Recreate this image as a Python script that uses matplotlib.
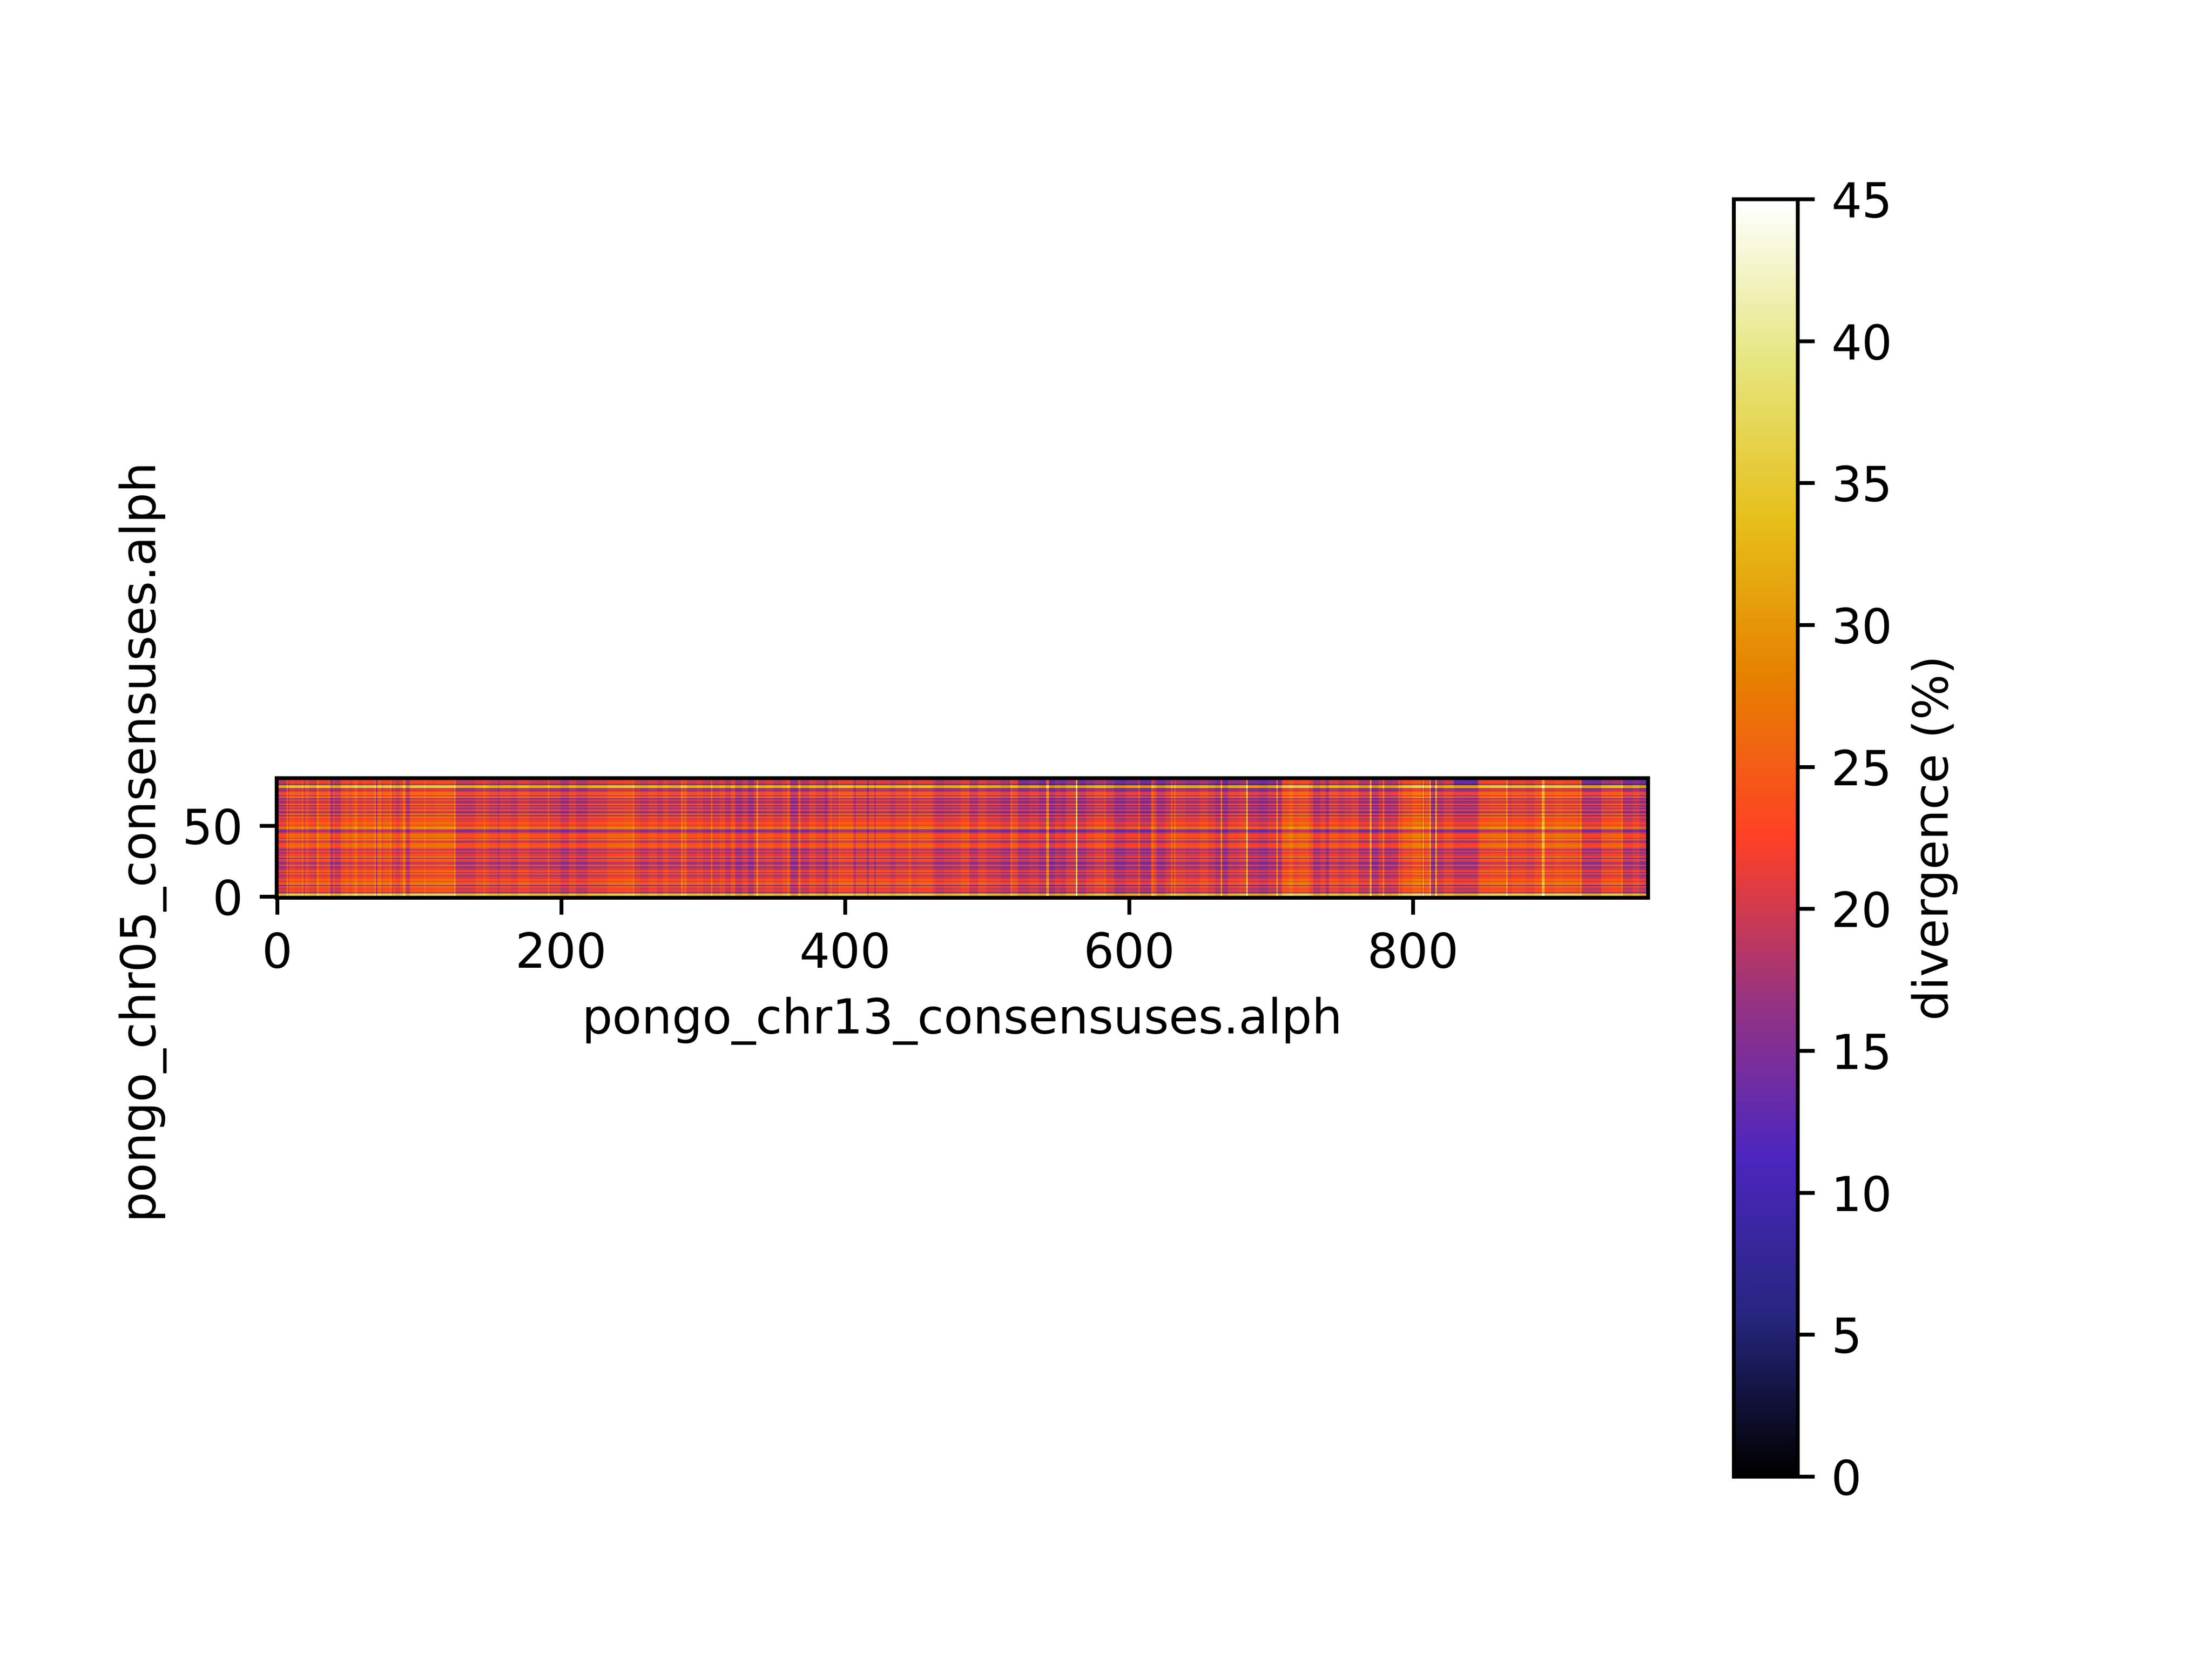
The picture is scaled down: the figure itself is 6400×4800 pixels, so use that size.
import numpy as np
import matplotlib
matplotlib.use("Agg")
import matplotlib.pyplot as plt

# reference is drawn with everything 1.25x the default size
plt.rcParams["font.size"] = 12.5
plt.rcParams["axes.linewidth"] = 1.0
plt.rcParams["axes.labelpad"] = 5.0
for axis in ["xtick", "ytick"]:
    plt.rcParams[axis + ".major.size"] = 4.375
    plt.rcParams[axis + ".major.width"] = 1.0
    plt.rcParams[axis + ".major.pad"] = 4.375

n_cols = 966

# cells are not readable one by one: the matrix is approximated from a row profile and a column profile
# offset of each row, listed from the top row down
row_offsets = [-4.5, -1, -2, -1, -6, 11, 11, -4.5, -4.5, -2, 2.5, 2.5, -2, 4.5, -6, 0, -4.5, -4.5, 2.5, -4.5,
               -1, -4.5, 2.5, -4.5, -4.5, 3.5, -6, 2.5, -1, -1, 0, 2.5, 1, -1, 4.5, 5.5, -4.5, -6, -1, 2.5,
               2.5, 2.5, -1, 4.5, -4.5, -1, 2.5, 2.5, 2.5, -1, -6, 1, -4.5, -1, -1, 2.5, -6, 2.5, -1, -4.5,
               -4.5, 2.5, -4.5, -3, -1, 2.5, -3, 2.5, -4.5, -1, -1, 2.5, -1, 2.5, 4.5, -5.5, 2.5, -1, -1, 0,
               -5.5, 12, 12, 1]

# first column of each run and the level of that run
col_starts = [0, 7, 8, 9, 13, 15, 16, 18, 19, 20, 23, 27, 28, 30, 36, 38, 39, 40, 41, 45,
              46, 47, 48, 51, 53, 55, 57, 61, 63, 69, 70, 71, 74, 75, 80, 81, 82, 84, 87, 89,
              90, 91, 94, 104, 105, 112, 124, 125, 126, 140, 146, 147, 150, 156, 157, 165, 170, 178, 191, 192,
              200, 206, 211, 219, 233, 245, 251, 252, 256, 262, 268, 272, 276, 285, 286, 287, 289, 296, 300, 306,
              307, 312, 316, 320, 323, 328, 332, 336, 338, 339, 345, 350, 356, 360, 361, 362, 367, 368, 369, 375,
              380, 386, 388, 390, 391, 396, 397, 406, 407, 408, 416, 417, 421, 422, 432, 436, 445, 447, 452, 462,
              464, 470, 476, 482, 488, 494, 500, 510, 517, 518, 522, 530, 537, 542, 544, 548, 552, 556, 563, 564,
              570, 576, 583, 584, 590, 598, 607, 608, 616, 618, 620, 626, 630, 631, 632, 633, 640, 650, 656, 661,
              665, 666, 670, 678, 683, 684, 692, 698, 704, 705, 708, 713, 716, 720, 727, 730, 735, 739, 741, 748,
              752, 757, 762, 769, 770, 771, 776, 779, 780, 785, 789, 790, 791, 793, 800, 806, 807, 808, 809, 811,
              812, 813, 816, 817, 822, 829, 839, 846, 847, 855, 866, 867, 870, 880, 886, 891, 893, 900, 906, 916,
              918, 919, 926, 933, 940, 947, 948, 955, 960]
col_levels = [20.5, 26, 21, 24, 23, 24, 23, 26.5, 20, 24, 22, 20, 26, 23.5, 24.5, 18.5, 20, 22.5, 20.5, 22.5,
              24.5, 23, 24.5, 23, 24.5, 26.5, 23.5, 25, 24, 27, 18.5, 26, 22.5, 24.5, 27, 21.5, 23, 21.5, 23, 28,
              26, 20, 24.5, 26.5, 24.5, 25, 24.5, 29, 21, 22.5, 25, 22.5, 21.5, 19, 22, 21, 23, 21.5, 25, 21.5,
              19.5, 22, 20, 22, 23.5, 24, 26.5, 22, 21, 22.5, 21, 23, 21.5, 28, 22.5, 25, 21.5, 22.5, 21, 26,
              21, 22.5, 20, 23, 19, 21.5, 18.5, 21.5, 30, 21.5, 22.5, 21, 22.5, 26, 22.5, 18.5, 22.5, 26, 20, 22.5,
              21, 18.5, 22, 25, 22, 25, 23.5, 21.5, 18.5, 22.5, 17.5, 22.5, 18.5, 22.5, 21, 22.5, 24.5, 22, 23, 21.5,
              20, 21, 21.5, 23, 20, 22.5, 21, 19.5, 26, 22.5, 19.5, 21, 19, 29, 18, 20, 19, 21.5, 38, 19,
              21, 22.5, 24.5, 21, 18.5, 20, 24.5, 18.5, 25, 22, 19, 21, 25, 21, 26, 22, 21, 22.5, 21, 19,
              29, 18, 21, 22, 35, 19.5, 18.5, 20, 30, 19.5, 24.5, 26, 24, 25, 23, 19.5, 21.5, 18.5, 22.5, 21,
              22, 23, 20, 21.5, 33, 18.5, 21, 27, 19.5, 20, 20, 25, 22.5, 24.5, 26, 23.5, 30, 23, 25, 24.5,
              31, 18, 33, 20, 22, 20, 20, 22.5, 24, 24.5, 31, 22.5, 23.5, 22.5, 24, 33, 24, 25, 24.5, 24,
              28, 20, 20, 23, 23.5, 26.5, 20, 21.5, 19.5]

# top rows are bluer than the profiles give in these column spans
top_row_count = 5
blue_starts = [522, 829, 919]
blue_ends = [708, 846, 966]
blue_drop = [3, 5, 4]

col_values = np.repeat(col_levels, np.diff(col_starts + [n_cols]))
matrix = np.array(row_offsets)[::-1, None] + col_values
for start, end, drop in zip(blue_starts, blue_ends, blue_drop):
    matrix[-top_row_count:, start:end] -= drop

plt.figure(figsize=(8, 6), dpi=800)
plt.imshow(matrix, cmap="CMRmap", origin="lower", vmin=0, vmax=45, interpolation="nearest")
plt.xlabel("pongo_chr13_consensuses.alph")
plt.ylabel("pongo_chr05_consensuses.alph")
cbar = plt.colorbar()
cbar.set_label("divergence (%)")
plt.savefig("out.png")
plt.close()
